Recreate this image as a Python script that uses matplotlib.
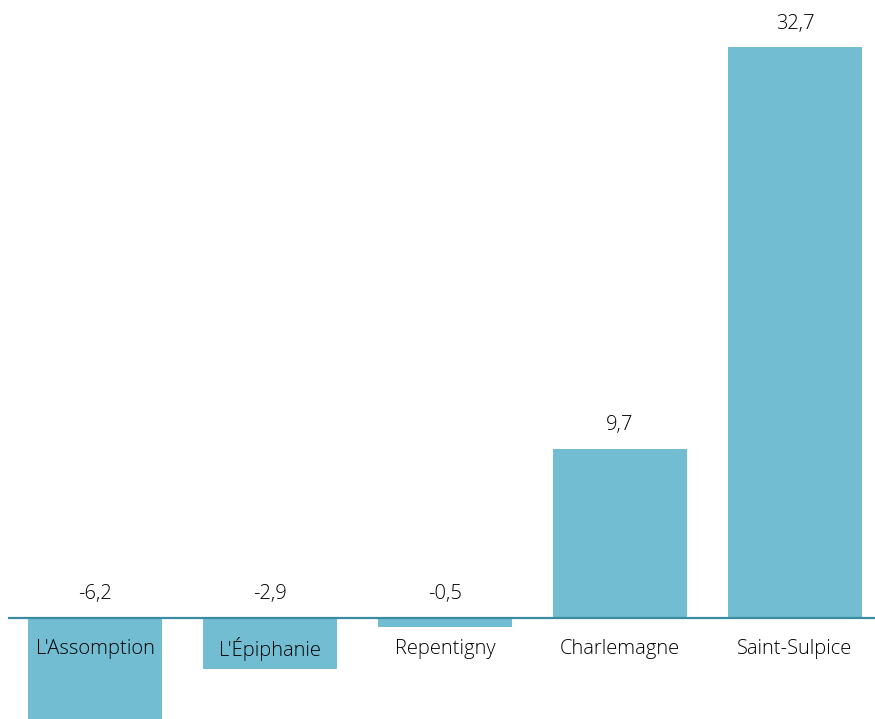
import numpy as np
import matplotlib.pyplot as plt

# Donnees
villes = ["L'Assomption", "L'Épiphanie", "Repentigny", "Charlemagne", "Saint-Sulpice"]
valeurs = [-6.2, -2.9, -0.5, 9.7, 32.7]
etiquettes = ["-6,2", "-2,9", "-0,5", "9,7", "32,7"]

plt.rcParams['font.family'] = ['Open Sans', 'DejaVu Sans']

fig = plt.figure(figsize=(8.75, 7.19), dpi=100)
ax = fig.add_axes([8/875, 0, 1 - 8/875, 1])

x = np.arange(len(villes))
ax.bar(x, valeurs, width=0.766, color='#72bdd2', zorder=2)
ax.axhline(0, color='#3a8aa0', linewidth=1.6, zorder=3)

for xi, v, lab in zip(x, valeurs, etiquettes):
    ax.annotate(lab, (xi, max(v, 0)), xytext=(0, 17), textcoords='offset points',
                ha='center', va='center', fontsize=14.5, fontweight='light', color='#000000')
    ax.annotate(villes[xi], (xi, 0), xytext=(0, -22), textcoords='offset points',
                ha='center', va='center', fontsize=14.5, fontweight='light', color='#000000', zorder=4)

ax.set_xlim(-0.497, 4.457)
ax.set_ylim(-5.78, 35.4)
ax.axis('off')

fig.savefig('out.png', dpi=100)
